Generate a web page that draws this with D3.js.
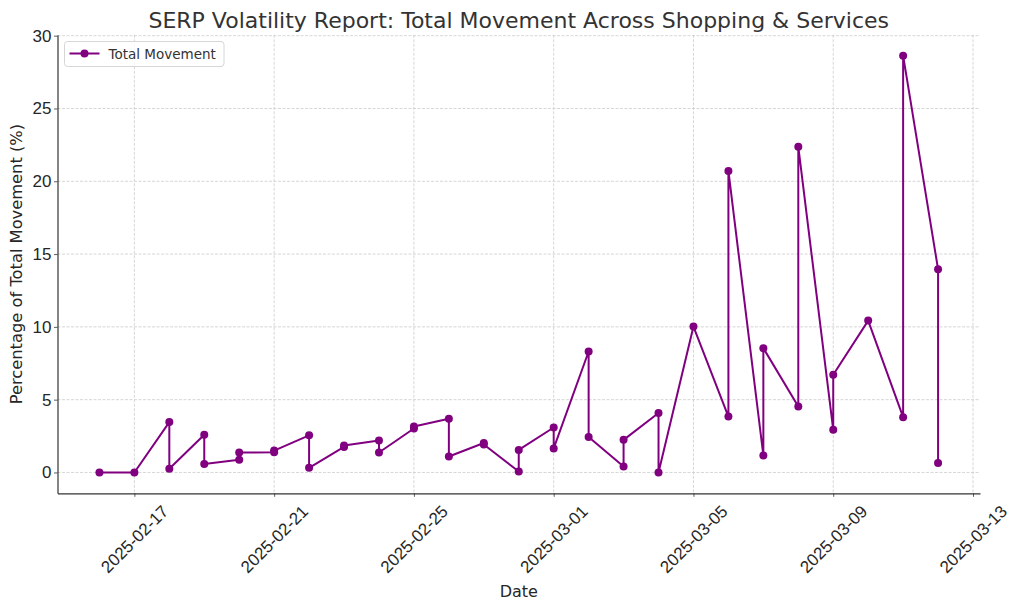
<!DOCTYPE html>
<html>
<head>
<meta charset="utf-8">
<script src="https://cdn.jsdelivr.net/npm/d3@7.9.0/dist/d3.min.js"></script>
<style>
  html, body { margin: 0; padding: 0; background: #fff; }
  svg { display: block; font-family: "DejaVu Sans", sans-serif; }
</style>
</head>
<body>
<svg width="1024" height="610"></svg>
<script>
// values, in plotting order (two readings on most days)
const dates = [
  '2025-02-16', '2025-02-17',
  '2025-02-18', '2025-02-18', '2025-02-19', '2025-02-19',
  '2025-02-20', '2025-02-20', '2025-02-21', '2025-02-21',
  '2025-02-22', '2025-02-22', '2025-02-23', '2025-02-23',
  '2025-02-24', '2025-02-24', '2025-02-25', '2025-02-25',
  '2025-02-26', '2025-02-26', '2025-02-27', '2025-02-27',
  '2025-02-28', '2025-02-28', '2025-03-01', '2025-03-01',
  '2025-03-02', '2025-03-02', '2025-03-03', '2025-03-03',
  '2025-03-04', '2025-03-04', '2025-03-05',
  '2025-03-06', '2025-03-06', '2025-03-07', '2025-03-07',
  '2025-03-08', '2025-03-08', '2025-03-09', '2025-03-09',
  '2025-03-10', '2025-03-11', '2025-03-11',
  '2025-03-12', '2025-03-12'
];
const movement = [
  0, 0,
  3.46, 0.25, 2.59, 0.58,
  0.87, 1.37, 1.38, 1.5,
  2.55, 0.32, 1.75, 1.85,
  2.2, 1.37, 3.02, 3.16,
  3.69, 1.1, 2.02, 1.92,
  0.07, 1.55, 3.09, 1.65,
  8.31, 2.43, 0.41, 2.24,
  4.08, 0, 10.02,
  3.84, 20.71, 1.17, 8.54,
  4.53, 22.38, 2.93, 6.71,
  10.43, 3.8, 28.63,
  13.96, 0.65
];
const xTickLabels = ['2025-02-17', '2025-02-21', '2025-02-25', '2025-03-01',
                     '2025-03-05', '2025-03-09', '2025-03-13'];
const yTicks = [0, 5, 10, 15, 20, 25, 30];

const parse = d3.utcParse('%Y-%m-%d');
const data = dates.map((d, i) => ({ date: parse(d), value: movement[i] }));

const svg = d3.select('svg');
const plotL = 57.5, plotR = 980, plotT = 34.8, plotB = 493.3;
const purple = '#800080';

// matplotlib-like 5% margins
const xExt = d3.extent(data, d => d.date);
const xPad = (xExt[1] - xExt[0]) * 0.05;
const x = d3.scaleUtc()
  .domain([new Date(+xExt[0] - xPad), new Date(+xExt[1] + xPad)])
  .range([plotL, plotR]);
const yExt = d3.extent(data, d => d.value);
const yPad = (yExt[1] - yExt[0]) * 0.05;
const y = d3.scaleLinear()
  .domain([yExt[0] - yPad, yExt[1] + yPad])
  .range([plotB, plotT]);

const xTicks = xTickLabels.map(parse);

// grid
const grid = svg.append('g')
  .attr('stroke', '#cccccc')
  .attr('stroke-width', 0.8)
  .attr('stroke-dasharray', '3,1.5');
grid.selectAll('.vg').data(xTicks).join('line')
  .attr('x1', d => x(d)).attr('x2', d => x(d))
  .attr('y1', plotT).attr('y2', plotB);
grid.selectAll('.hg').data(yTicks).join('line')
  .attr('x1', plotL).attr('x2', plotR)
  .attr('y1', d => y(d)).attr('y2', d => y(d));

// axes
const xAxis = svg.append('g')
  .attr('transform', `translate(0,${plotB})`)
  .call(d3.axisBottom(x).tickValues(xTicks).tickSize(3.5).tickSizeOuter(0).tickFormat(''));
const yAxis = svg.append('g')
  .attr('transform', `translate(${plotL},0)`)
  .call(d3.axisLeft(y).tickValues(yTicks).tickSize(3.5).tickSizeOuter(0).tickPadding(2.5));
[xAxis, yAxis].forEach(a => {
  a.select('.domain').attr('stroke', '#333').attr('stroke-width', 1.2);
  a.selectAll('.tick line').attr('stroke', '#333').attr('stroke-width', 0.8);
});
yAxis.selectAll('.tick text')
  .attr('font-size', 17).attr('fill', '#262626');

xAxis.selectAll('.tick').append('text')
  .attr('transform', 'translate(0,46) rotate(-45)')
  .attr('text-anchor', 'middle')
  .attr('dominant-baseline', 'central')
  .attr('font-size', 17)
  .attr('fill', '#262626')
  .text((d, i) => xTickLabels[i]);

// line + markers
const line = d3.line().x(d => x(d.date)).y(d => y(d.value));
svg.append('path')
  .datum(data)
  .attr('d', line)
  .attr('fill', 'none')
  .attr('stroke', purple)
  .attr('stroke-width', 2)
  .attr('stroke-linejoin', 'round');
svg.append('g').selectAll('circle').data(data).join('circle')
  .attr('cx', d => x(d.date))
  .attr('cy', d => y(d.value))
  .attr('r', 4)
  .attr('fill', purple);

// titles
svg.append('text')
  .attr('x', (plotL + plotR) / 2).attr('y', 28)
  .attr('text-anchor', 'middle')
  .attr('font-size', 22)
  .attr('fill', '#333')
  .text('SERP Volatility Report: Total Movement Across Shopping & Services');
svg.append('text')
  .attr('x', (plotL + plotR) / 2).attr('y', 597)
  .attr('text-anchor', 'middle')
  .attr('font-size', 16)
  .attr('fill', '#262626')
  .text('Date');
svg.append('text')
  .attr('transform', `translate(22,${(plotT + plotB) / 2}) rotate(-90)`)
  .attr('text-anchor', 'middle')
  .attr('font-size', 16.3)
  .attr('fill', '#262626')
  .text('Percentage of Total Movement (%)');

// legend
const lg = svg.append('g').attr('transform', 'translate(64.5,41.5)');
lg.append('rect')
  .attr('width', 159.5).attr('height', 25)
  .attr('rx', 3)
  .attr('fill', '#fff').attr('fill-opacity', 0.8)
  .attr('stroke', '#d6d6d6');
lg.append('line')
  .attr('x1', 5).attr('x2', 35).attr('y1', 12).attr('y2', 12)
  .attr('stroke', purple).attr('stroke-width', 2);
lg.append('circle').attr('cx', 20).attr('cy', 12).attr('r', 4).attr('fill', purple);
lg.append('text')
  .attr('x', 44).attr('y', 17)
  .attr('font-size', 13.5)
  .attr('fill', '#333')
  .text('Total Movement');
</script>
</body>
</html>
